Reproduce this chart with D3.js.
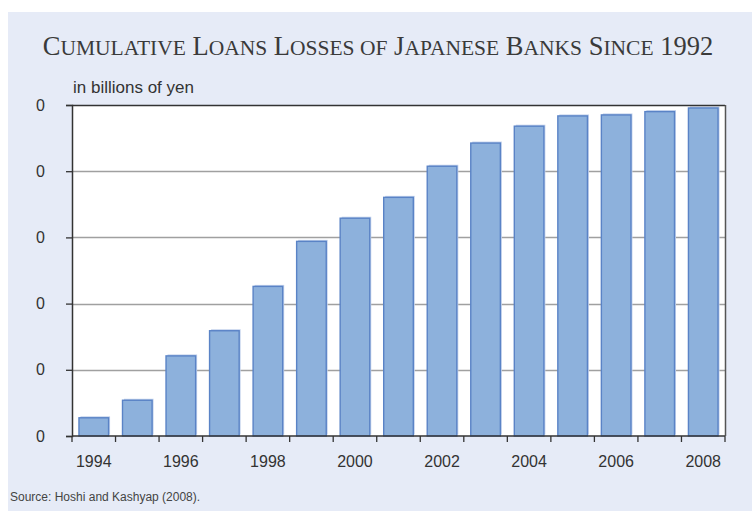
<!DOCTYPE html>
<html>
<head>
<meta charset="utf-8">
<script src="https://cdn.jsdelivr.net/npm/d3@7/dist/d3.min.js"></script>
<style>
  html, body { margin: 0; padding: 0; background: #ffffff; }
  svg { display: block; }
</style>
</head>
<body>
<svg id="chart" width="752" height="511"></svg>
<script>
// ---- data ----
const years = ["1994","1995","1996","1997","1998","1999","2000","2001","2002","2003","2004","2005","2006","2007","2008"];
const losses = [5.5, 10.8, 24.2, 31.8, 45.2, 58.8, 65.8, 72.1, 81.5, 88.5, 93.6, 96.7, 97.0, 98.0, 99.1];
const yTickValues = [0, 20, 40, 60, 80, 100];
const yTickLabels = ["0", "0", "0", "0", "0", "0"];
const xLabelYears = ["1994","1996","1998","2000","2002","2004","2006","2008"];
const titleWords = ["Cumulative", "Loans", "Losses", "of", "Japanese", "Banks", "Since", "1992"];
const unitLabel = "in billions of yen";
const sourceText = "Source: Hoshi and Kashyap (2008).";

// ---- layout ----
const svg = d3.select("#chart");
const W = 752, H = 511;
const plot = { left: 72, right: 725, top: 105, bottom: 436 };

svg.append("rect").attr("x", 8).attr("y", 12).attr("width", W - 8).attr("height", H - 12)
  .attr("fill", "#e6ebf7");

// title (small caps built from tspans)
const title = svg.append("text")
  .attr("x", 378).attr("y", 55)
  .attr("text-anchor", "middle")
  .attr("font-family", "'Liberation Serif', 'Times New Roman', serif")
  .attr("fill", "#3a3a3a");
titleWords.forEach((w, i) => {
  const sp = i ? " " : "";
  if (/^[0-9]/.test(w)) {
    title.append("tspan").attr("font-size", 26.5).text(sp + w);
  } else if (w[0] === w[0].toLowerCase()) {
    title.append("tspan").attr("font-size", 21.5).text(sp + w.toUpperCase());
  } else {
    title.append("tspan").attr("font-size", 26.5).text(sp + w[0]);
    title.append("tspan").attr("font-size", 21.5).text(w.slice(1).toUpperCase());
  }
});

svg.append("text").attr("x", 73).attr("y", 93)
  .attr("font-family", "'Liberation Sans', Arial, sans-serif")
  .attr("font-size", 17).attr("fill", "#333")
  .text(unitLabel);

svg.append("text").attr("x", 10).attr("y", 501)
  .attr("font-family", "'Liberation Sans', Arial, sans-serif")
  .attr("font-size", 12).attr("fill", "#444")
  .text(sourceText);

// scales
const x = d3.scaleBand().domain(years).range([plot.left, plot.right]).paddingInner(0.32).paddingOuter(0.16);
const xb = d3.scaleBand().domain(years).range([plot.left, plot.right]);
const y = d3.scaleLinear().domain([0, 100]).range([plot.bottom, plot.top]);

// plot background
svg.append("rect").attr("x", plot.left).attr("y", plot.top)
  .attr("width", plot.right - plot.left).attr("height", plot.bottom - plot.top)
  .attr("fill", "#ffffff");

// gridlines
svg.append("g").selectAll("line").data(yTickValues.slice(1, -1)).join("line")
  .attr("x1", plot.left).attr("x2", plot.right)
  .attr("y1", d => Math.round(y(d)) + 0.5).attr("y2", d => Math.round(y(d)) + 0.5)
  .attr("stroke", "#a0a0a0").attr("stroke-width", 1.3);

// bars: shadow then bar
const bars = svg.append("g");
bars.selectAll("rect.sh").data(losses).join("rect").attr("class", "sh")
  .attr("x", (d, i) => x(years[i]) + 1.5).attr("y", d => y(d) - 1.5)
  .attr("width", x.bandwidth()).attr("height", d => y(0) - y(d))
  .attr("fill", "#c3d2ec");
bars.selectAll("rect.b").data(losses).join("rect").attr("class", "b")
  .attr("x", (d, i) => x(years[i])).attr("y", d => y(d))
  .attr("width", x.bandwidth()).attr("height", d => y(0) - y(d))
  .attr("fill", "#8db1dc").attr("stroke", "#5a83c6").attr("stroke-width", 1.4);

// frame (top and right)
svg.append("line").attr("x1", plot.left).attr("x2", plot.right).attr("y1", plot.top + 0.5).attr("y2", plot.top + 0.5)
  .attr("stroke", "#333").attr("stroke-width", 1.5);
svg.append("line").attr("x1", plot.right + 0.5).attr("x2", plot.right + 0.5).attr("y1", plot.top).attr("y2", plot.bottom)
  .attr("stroke", "#555").attr("stroke-width", 1.5);

// y axis
const yAxis = d3.axisLeft(y).tickValues(yTickValues)
  .tickFormat((d, i) => yTickLabels[i]).tickSize(6).tickPadding(21);
const gy = svg.append("g").attr("transform", `translate(${plot.left},0)`).call(yAxis);
gy.select(".domain").attr("stroke", "#333").attr("stroke-width", 1.5);
gy.selectAll(".tick line").attr("stroke", "#333").attr("stroke-width", 1.3);
gy.selectAll(".tick text").attr("font-family", "'Liberation Sans', Arial, sans-serif")
  .attr("font-size", 16).attr("fill", "#333");

// x axis: ticks at band boundaries, labels at every other band center
const boundaries = years.map(d => xb(d)).concat([plot.right]);
const gx = svg.append("g");
gx.append("line").attr("x1", plot.left).attr("x2", plot.right)
  .attr("y1", plot.bottom).attr("y2", plot.bottom)
  .attr("stroke", "#333").attr("stroke-width", 1.5);
gx.selectAll("line.t").data(boundaries).join("line").attr("class", "t")
  .attr("x1", d => d).attr("x2", d => d)
  .attr("y1", plot.bottom).attr("y2", plot.bottom + 6)
  .attr("stroke", "#333").attr("stroke-width", 1.3);
gx.selectAll("text").data(xLabelYears).join("text")
  .attr("x", d => xb(d) + xb.bandwidth() / 2).attr("y", 467)
  .attr("text-anchor", "middle")
  .attr("font-family", "'Liberation Sans', Arial, sans-serif")
  .attr("font-size", 16).attr("fill", "#333")
  .text(d => d);
</script>
</body>
</html>
